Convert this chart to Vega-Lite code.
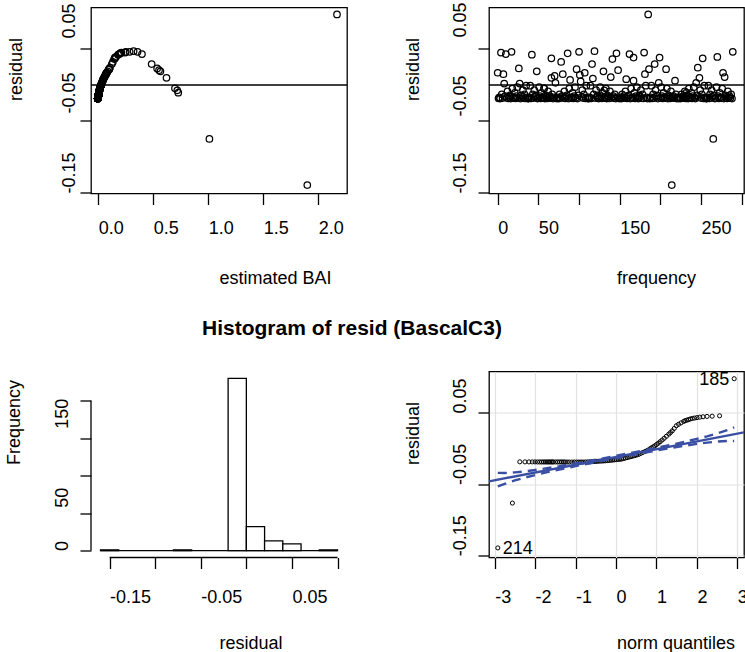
{
"$schema": "https://vega.github.io/schema/vega-lite/v6.json",
"background": "white",
"padding": {"left": 5, "top": 0.5, "right": 0, "bottom": 0},
"usermeta": {"embedOptions": {"actions": false}},
"config": {
  "font": "Liberation Sans",
  "view": {"stroke": "black", "strokeWidth": 1.3},
  "axis": {"domain": false, "grid": false, "ticks": true, "tickColor": "black", "tickSize": 11, "tickWidth": 1.3,
    "labelFont": "Liberation Sans", "labelFontSize": 18, "labelColor": "black", "labelOverlap": false, "labelFlush": false,
    "titleFont": "Liberation Sans", "titleFontSize": 18, "titleFontWeight": "normal", "titleColor": "black"}
},
"datasets": {
  "res": [
{"f":0,"b":0.076,"r":0.017},{"f":4,"b":0.21,"r":0.045},{"f":7,"b":0.069,"r":0.015},{"f":8,"b":0.03,"r":0.002},{"f":10,"b":0.19,"r":0.043},{"f":17,"b":0.285,"r":0.046},{"f":26,"b":0.535,"r":0.023},{"f":27,"b":0.03,"r":0.002},{"f":42,"b":0.18,"r":0.042},{"f":48,"b":0.565,"r":0.019},{"f":66,"b":0.148,"r":0.037},{"f":66,"b":0.052,"r":0.01},{"f":70,"b":0.0605,"r":0.0125},{"f":71,"b":0.0325,"r":0.003},{"f":78,"b":0.132,"r":0.032},{"f":80,"b":0.069,"r":0.015},{"f":86,"b":0.2,"r":0.044},{"f":89,"b":0.0425,"r":0.007},{"f":97,"b":0.097,"r":0.022},{"f":100,"b":0.357,"r":0.046},{"f":101,"b":0.0655,"r":0.014},{"f":102,"b":0.0375,"r":0.005},{"f":107,"b":0.076,"r":0.017},{"f":116,"b":0.485,"r":0.029},{"f":117,"b":0.0484,"r":0.009},{"f":119,"b":0.321,"r":0.047},{"f":130,"b":0.085,"r":0.019},{"f":139,"b":0.0555,"r":0.011},{"f":141,"b":0.145,"r":0.036},{"f":146,"b":0.2,"r":0.044},{"f":148,"b":0.552,"r":0.0205},{"f":158,"b":0.045,"r":0.008},{"f":162,"b":0.397,"r":0.043},{"f":167,"b":0.152,"r":0.038},{"f":167,"b":0.04,"r":0.006},{"f":180,"b":0.243,"r":0.045},{"f":181,"b":0.069,"r":0.015},{"f":185,"b":2.17,"r":0.098},{"f":186,"b":0.097,"r":0.022},{"f":193,"b":0.123,"r":0.029},{"f":198,"b":0.0325,"r":0.003},{"f":199,"b":0.155,"r":0.038},{"f":207,"b":0.1,"r":0.022},{"f":214,"b":1.9,"r":-0.139},{"f":218,"b":0.04,"r":0.006},{"f":244,"b":0.033,"r":0.003},{"f":246,"b":0.106,"r":0.024},{"f":248,"b":0.62,"r":0.01},{"f":252,"b":0.149,"r":0.037},{"f":265,"b":1.01,"r":-0.075},{"f":270,"b":0.16,"r":0.039},{"f":277,"b":0.077,"r":0.017},{"f":279,"b":0.056,"r":0.011},{"f":289,"b":0.25,"r":0.046},
{"f":57,"b":0.697,"r":-0.0046},{"f":131,"b":0.718,"r":-0.0074},{"f":232,"b":0.727,"r":-0.0107},
{"f":1,"b":-0.0044,"r":-0.0185},{"f":2,"b":-0.0026,"r":-0.0172},{"f":3,"b":-0.005,"r":-0.0188},{"f":5,"b":0.003,"r":-0.013},{"f":6,"b":-0.004,"r":-0.0182},{"f":9,"b":-0.0003,"r":-0.0155},{"f":11,"b":-0.0034,"r":-0.0178},{"f":12,"b":0.0083,"r":-0.009},{"f":13,"b":-0.0044,"r":-0.0185},{"f":14,"b":-0.0017,"r":-0.0165},{"f":15,"b":0.001,"r":-0.0145},{"f":16,"b":-0.005,"r":-0.0188},{"f":18,"b":0.0137,"r":-0.005},{"f":19,"b":-0.004,"r":-0.0182},{"f":20,"b":-0.0026,"r":-0.0172},{"f":21,"b":0.0057,"r":-0.011},{"f":22,"b":-0.0044,"r":-0.0185},{"f":23,"b":-0.0003,"r":-0.0155},{"f":24,"b":0.0175,"r":-0.003},{"f":25,"b":-0.0034,"r":-0.0178},{"f":28,"b":-0.005,"r":-0.0188},{"f":29,"b":0.001,"r":-0.0145},{"f":30,"b":-0.0017,"r":-0.0165},{"f":31,"b":0.011,"r":-0.007},{"f":32,"b":-0.004,"r":-0.0182},{"f":33,"b":0.003,"r":-0.013},{"f":34,"b":-0.0044,"r":-0.0185},{"f":35,"b":0.0225,"r":-0.001},{"f":36,"b":-0.0026,"r":-0.0172},{"f":37,"b":-0.005,"r":-0.0188},
{"f":38,"b":-0.005,"r":-0.0188},{"f":39,"b":-0.0026,"r":-0.0172},{"f":40,"b":0.0225,"r":-0.001},{"f":41,"b":-0.0044,"r":-0.0185},{"f":43,"b":0.003,"r":-0.013},{"f":44,"b":-0.004,"r":-0.0182},{"f":45,"b":0.011,"r":-0.007},{"f":46,"b":-0.0017,"r":-0.0165},{"f":47,"b":0.001,"r":-0.0145},{"f":49,"b":-0.005,"r":-0.0188},{"f":50,"b":-0.0034,"r":-0.0178},{"f":51,"b":0.0175,"r":-0.003},{"f":52,"b":-0.0003,"r":-0.0155},{"f":53,"b":-0.0044,"r":-0.0185},{"f":54,"b":0.0057,"r":-0.011},{"f":55,"b":-0.0026,"r":-0.0172},{"f":56,"b":-0.004,"r":-0.0182},{"f":57,"b":0.0137,"r":-0.005},{"f":58,"b":-0.005,"r":-0.0188},{"f":59,"b":0.001,"r":-0.0145},{"f":60,"b":-0.0017,"r":-0.0165},{"f":61,"b":-0.0044,"r":-0.0185},{"f":62,"b":0.0083,"r":-0.009},{"f":63,"b":-0.0034,"r":-0.0178},{"f":64,"b":-0.0003,"r":-0.0155},{"f":65,"b":-0.004,"r":-0.0182},{"f":67,"b":0.003,"r":-0.013},{"f":68,"b":-0.005,"r":-0.0188},{"f":69,"b":-0.0026,"r":-0.0172},{"f":72,"b":-0.0044,"r":-0.0185},
{"f":73,"b":-0.0044,"r":-0.0185},{"f":74,"b":-0.0026,"r":-0.0172},{"f":75,"b":-0.005,"r":-0.0188},{"f":76,"b":0.003,"r":-0.013},{"f":77,"b":-0.004,"r":-0.0182},{"f":79,"b":-0.0003,"r":-0.0155},{"f":81,"b":-0.0034,"r":-0.0178},{"f":82,"b":0.0083,"r":-0.009},{"f":83,"b":-0.0044,"r":-0.0185},{"f":84,"b":-0.0017,"r":-0.0165},{"f":85,"b":0.001,"r":-0.0145},{"f":87,"b":-0.005,"r":-0.0188},{"f":88,"b":0.0137,"r":-0.005},{"f":90,"b":-0.004,"r":-0.0182},{"f":91,"b":-0.0026,"r":-0.0172},{"f":92,"b":0.0057,"r":-0.011},{"f":93,"b":-0.0044,"r":-0.0185},{"f":94,"b":-0.0003,"r":-0.0155},{"f":95,"b":0.0175,"r":-0.003},{"f":96,"b":-0.0034,"r":-0.0178},{"f":98,"b":-0.005,"r":-0.0188},{"f":99,"b":0.001,"r":-0.0145},{"f":103,"b":-0.0017,"r":-0.0165},{"f":104,"b":0.011,"r":-0.007},{"f":105,"b":-0.004,"r":-0.0182},{"f":106,"b":0.003,"r":-0.013},{"f":108,"b":-0.0044,"r":-0.0185},{"f":109,"b":0.0225,"r":-0.001},{"f":110,"b":-0.0026,"r":-0.0172},{"f":111,"b":-0.005,"r":-0.0188},
{"f":112,"b":-0.005,"r":-0.0188},{"f":113,"b":-0.0026,"r":-0.0172},{"f":114,"b":0.0225,"r":-0.001},{"f":115,"b":-0.0044,"r":-0.0185},{"f":118,"b":0.003,"r":-0.013},{"f":120,"b":-0.004,"r":-0.0182},{"f":121,"b":0.011,"r":-0.007},{"f":122,"b":-0.0017,"r":-0.0165},{"f":123,"b":0.001,"r":-0.0145},{"f":124,"b":-0.005,"r":-0.0188},{"f":125,"b":-0.0034,"r":-0.0178},{"f":126,"b":0.0175,"r":-0.003},{"f":127,"b":-0.0003,"r":-0.0155},{"f":128,"b":-0.0044,"r":-0.0185},{"f":129,"b":0.0057,"r":-0.011},{"f":131,"b":-0.0026,"r":-0.0172},{"f":132,"b":-0.004,"r":-0.0182},{"f":133,"b":0.0137,"r":-0.005},{"f":134,"b":-0.005,"r":-0.0188},{"f":135,"b":0.001,"r":-0.0145},{"f":136,"b":-0.0017,"r":-0.0165},{"f":137,"b":-0.0044,"r":-0.0185},{"f":138,"b":0.0083,"r":-0.009},{"f":140,"b":-0.0034,"r":-0.0178},{"f":142,"b":-0.0003,"r":-0.0155},{"f":143,"b":-0.004,"r":-0.0182},{"f":144,"b":0.003,"r":-0.013},{"f":145,"b":-0.005,"r":-0.0188},{"f":147,"b":-0.0026,"r":-0.0172},{"f":149,"b":-0.0044,"r":-0.0185},
{"f":150,"b":-0.0044,"r":-0.0185},{"f":151,"b":-0.0026,"r":-0.0172},{"f":152,"b":-0.005,"r":-0.0188},{"f":153,"b":0.003,"r":-0.013},{"f":154,"b":-0.004,"r":-0.0182},{"f":155,"b":-0.0003,"r":-0.0155},{"f":156,"b":-0.0034,"r":-0.0178},{"f":157,"b":0.0083,"r":-0.009},{"f":159,"b":-0.0044,"r":-0.0185},{"f":160,"b":-0.0017,"r":-0.0165},{"f":161,"b":0.001,"r":-0.0145},{"f":163,"b":-0.005,"r":-0.0188},{"f":164,"b":0.0137,"r":-0.005},{"f":165,"b":-0.004,"r":-0.0182},{"f":166,"b":-0.0026,"r":-0.0172},{"f":168,"b":0.0057,"r":-0.011},{"f":169,"b":-0.0044,"r":-0.0185},{"f":170,"b":-0.0003,"r":-0.0155},{"f":171,"b":0.0175,"r":-0.003},{"f":172,"b":-0.0034,"r":-0.0178},{"f":173,"b":-0.005,"r":-0.0188},{"f":174,"b":0.001,"r":-0.0145},{"f":175,"b":-0.0017,"r":-0.0165},{"f":176,"b":0.011,"r":-0.007},{"f":177,"b":-0.004,"r":-0.0182},{"f":178,"b":0.003,"r":-0.013},{"f":179,"b":-0.0044,"r":-0.0185},{"f":182,"b":0.0225,"r":-0.001},{"f":183,"b":-0.0026,"r":-0.0172},{"f":184,"b":-0.005,"r":-0.0188},
{"f":187,"b":-0.005,"r":-0.0188},{"f":188,"b":-0.0026,"r":-0.0172},{"f":189,"b":0.0225,"r":-0.001},{"f":190,"b":-0.0044,"r":-0.0185},{"f":191,"b":0.003,"r":-0.013},{"f":192,"b":-0.004,"r":-0.0182},{"f":194,"b":0.011,"r":-0.007},{"f":195,"b":-0.0017,"r":-0.0165},{"f":196,"b":0.001,"r":-0.0145},{"f":197,"b":-0.005,"r":-0.0188},{"f":200,"b":-0.0034,"r":-0.0178},{"f":201,"b":0.0175,"r":-0.003},{"f":202,"b":-0.0003,"r":-0.0155},{"f":203,"b":-0.0044,"r":-0.0185},{"f":204,"b":0.0057,"r":-0.011},{"f":205,"b":-0.0026,"r":-0.0172},{"f":206,"b":-0.004,"r":-0.0182},{"f":208,"b":0.0137,"r":-0.005},{"f":209,"b":-0.005,"r":-0.0188},{"f":210,"b":0.001,"r":-0.0145},{"f":211,"b":-0.0017,"r":-0.0165},{"f":212,"b":-0.0044,"r":-0.0185},{"f":213,"b":0.0083,"r":-0.009},{"f":215,"b":-0.0034,"r":-0.0178},{"f":216,"b":-0.0003,"r":-0.0155},{"f":217,"b":-0.004,"r":-0.0182},{"f":219,"b":0.003,"r":-0.013},{"f":220,"b":-0.005,"r":-0.0188},{"f":221,"b":-0.0026,"r":-0.0172},{"f":222,"b":-0.0044,"r":-0.0185},
{"f":223,"b":-0.0044,"r":-0.0185},{"f":224,"b":-0.0026,"r":-0.0172},{"f":225,"b":-0.005,"r":-0.0188},{"f":226,"b":0.003,"r":-0.013},{"f":227,"b":-0.004,"r":-0.0182},{"f":228,"b":-0.0003,"r":-0.0155},{"f":229,"b":-0.0034,"r":-0.0178},{"f":230,"b":0.0083,"r":-0.009},{"f":231,"b":-0.0044,"r":-0.0185},{"f":232,"b":-0.0017,"r":-0.0165},{"f":233,"b":0.001,"r":-0.0145},{"f":234,"b":-0.005,"r":-0.0188},{"f":235,"b":0.0137,"r":-0.005},{"f":236,"b":-0.004,"r":-0.0182},{"f":237,"b":-0.0026,"r":-0.0172},{"f":238,"b":0.0057,"r":-0.011},{"f":239,"b":-0.0044,"r":-0.0185},{"f":240,"b":-0.0003,"r":-0.0155},{"f":241,"b":0.0175,"r":-0.003},{"f":242,"b":-0.0034,"r":-0.0178},{"f":243,"b":-0.005,"r":-0.0188},{"f":245,"b":0.001,"r":-0.0145},{"f":247,"b":-0.0017,"r":-0.0165},{"f":249,"b":0.011,"r":-0.007},{"f":250,"b":-0.004,"r":-0.0182},{"f":251,"b":0.003,"r":-0.013},{"f":253,"b":-0.0044,"r":-0.0185},{"f":254,"b":0.0225,"r":-0.001},{"f":255,"b":-0.0026,"r":-0.0172},{"f":256,"b":-0.005,"r":-0.0188},
{"f":257,"b":-0.005,"r":-0.0188},{"f":258,"b":-0.0026,"r":-0.0172},{"f":259,"b":0.0225,"r":-0.001},{"f":260,"b":-0.0044,"r":-0.0185},{"f":261,"b":0.003,"r":-0.013},{"f":262,"b":-0.004,"r":-0.0182},{"f":263,"b":0.011,"r":-0.007},{"f":264,"b":-0.0017,"r":-0.0165},{"f":266,"b":0.001,"r":-0.0145},{"f":267,"b":-0.005,"r":-0.0188},{"f":268,"b":-0.0034,"r":-0.0178},{"f":269,"b":0.0175,"r":-0.003},{"f":271,"b":-0.0003,"r":-0.0155},{"f":272,"b":-0.0044,"r":-0.0185},{"f":273,"b":0.0057,"r":-0.011},{"f":274,"b":-0.0026,"r":-0.0172},{"f":275,"b":-0.004,"r":-0.0182},{"f":276,"b":0.0137,"r":-0.005},{"f":278,"b":-0.005,"r":-0.0188},{"f":280,"b":0.001,"r":-0.0145},{"f":281,"b":-0.0017,"r":-0.0165},{"f":282,"b":-0.0044,"r":-0.0185},{"f":283,"b":0.0083,"r":-0.009},{"f":284,"b":-0.0034,"r":-0.0178},{"f":285,"b":-0.0003,"r":-0.0155},{"f":286,"b":-0.004,"r":-0.0182},{"f":287,"b":0.003,"r":-0.013},{"f":288,"b":-0.005,"r":-0.0188}
  ],
  "hist": [
{"lo":-0.16,"hi":-0.14,"n":1},{"lo":-0.08,"hi":-0.06,"n":1},{"lo":-0.02,"hi":0,"n":230},{"lo":0,"hi":0.02,"n":32},{"lo":0.02,"hi":0.04,"n":13},{"lo":0.04,"hi":0.06,"n":9},{"lo":0.08,"hi":0.1,"n":1}
  ],
  "qq": [
{"q":-2.922,"r":-0.139},{"q":-2.561,"r":-0.0762},{"q":-2.378,"r":-0.0184},{"q":-2.251,"r":-0.0185},{"q":-2.152,"r":-0.0185},{"q":-2.071,"r":-0.0185},{"q":-2.002,"r":-0.0185},{"q":-1.941,"r":-0.0186},{"q":-1.886,"r":-0.0186},{"q":-1.837,"r":-0.0186},{"q":-1.792,"r":-0.0186},{"q":-1.75,"r":-0.0186},{"q":-1.711,"r":-0.0186},{"q":-1.674,"r":-0.0186},{"q":-1.64,"r":-0.0186},{"q":-1.607,"r":-0.0186},{"q":-1.576,"r":-0.0186},{"q":-1.546,"r":-0.0186},{"q":-1.491,"r":-0.0186},{"q":-1.44,"r":-0.0186},{"q":-1.393,"r":-0.0186},{"q":-1.348,"r":-0.0186},{"q":-1.306,"r":-0.0186},{"q":-1.265,"r":-0.0186},{"q":-1.209,"r":-0.0187},{"q":-1.157,"r":-0.0187},{"q":-1.092,"r":-0.0187},{"q":-1.03,"r":-0.0187},{"q":-0.972,"r":-0.0187},{"q":-0.917,"r":-0.0187},{"q":-0.865,"r":-0.0187},{"q":-0.816,"r":-0.0187},{"q":-0.756,"r":-0.0186},{"q":-0.699,"r":-0.0186},{"q":-0.645,"r":-0.0184},{"q":-0.592,"r":-0.0182},{"q":-0.541,"r":-0.018},{"q":-0.491,"r":-0.0178},{"q":-0.442,"r":-0.0176},{"q":-0.394,"r":-0.0174},{"q":-0.347,"r":-0.0173},{"q":-0.301,"r":-0.0171},{"q":-0.256,"r":-0.0169},{"q":-0.211,"r":-0.0166},{"q":-0.167,"r":-0.0164},{"q":-0.123,"r":-0.0161},{"q":-0.079,"r":-0.0159},{"q":-0.035,"r":-0.0156},{"q":0.009,"r":-0.0153},{"q":0.052,"r":-0.0151},{"q":0.096,"r":-0.0148},{"q":0.14,"r":-0.0145},{"q":0.185,"r":-0.0138},{"q":0.229,"r":-0.0131},{"q":0.274,"r":-0.0125},{"q":0.319,"r":-0.0118},{"q":0.366,"r":-0.0111},{"q":0.413,"r":-0.0104},{"q":0.461,"r":-0.0097},{"q":0.51,"r":-0.0089},{"q":0.561,"r":-0.008},{"q":0.613,"r":-0.0066},{"q":0.666,"r":-0.0052},{"q":0.722,"r":-0.0038},{"q":0.779,"r":-0.0023},{"q":0.84,"r":-0.0002},{"q":0.879,"r":0.0012},{"q":0.918,"r":0.0025},{"q":0.958,"r":0.0039},{"q":1.0,"r":0.0058},{"q":1.045,"r":0.0077},{"q":1.092,"r":0.0098},{"q":1.141,"r":0.0121},{"q":1.192,"r":0.0146},{"q":1.247,"r":0.0174},{"q":1.306,"r":0.0204},{"q":1.347,"r":0.0226},{"q":1.392,"r":0.025},{"q":1.44,"r":0.0283},{"q":1.492,"r":0.0321},{"q":1.546,"r":0.0341},{"q":1.607,"r":0.0361},{"q":1.674,"r":0.0382},{"q":1.71,"r":0.0392},{"q":1.75,"r":0.0399},{"q":1.792,"r":0.0407},{"q":1.837,"r":0.0416},{"q":1.886,"r":0.0423},{"q":1.941,"r":0.0429},{"q":2.002,"r":0.0435},{"q":2.071,"r":0.0441},{"q":2.152,"r":0.0447},{"q":2.251,"r":0.0452},{"q":2.378,"r":0.0455},{"q":2.561,"r":0.046},{"q":2.922,"r":0.098}
  ],
  "fit": [{"q":-3.14,"r":-0.0458},{"q":3.165,"r":0.0229}],
  "env": [
{"q":-2.922,"lo":-0.05295,"hi":-0.03395},{"q":-2.75,"lo":-0.04914,"hi":-0.03402},{"q":-2.5,"lo":-0.0445,"hi":-0.0332},{"q":-2.25,"lo":-0.0405,"hi":-0.03176},{"q":-2,"lo":-0.0369,"hi":-0.0299},{"q":-1.5,"lo":-0.03035,"hi":-0.02555},{"q":-1,"lo":-0.0244,"hi":-0.0206},{"q":-0.5,"lo":-0.0187,"hi":-0.0154},{"q":0,"lo":-0.0132,"hi":-0.01},{"q":0.5,"lo":-0.0078,"hi":-0.0045},{"q":1,"lo":-0.0026,"hi":0.0012},{"q":1.5,"lo":0.00235,"hi":0.00715},{"q":2,"lo":0.0067,"hi":0.0137},{"q":2.25,"lo":0.00856,"hi":0.0173},{"q":2.5,"lo":0.01,"hi":0.0213},{"q":2.75,"lo":0.01082,"hi":0.02594},{"q":2.922,"lo":0.01075,"hi":0.02975}
  ],
  "lab": [{"q":2.922,"r":0.098,"lab":"185"},{"q":-2.922,"r":-0.139,"lab":"214"}]
},
"columns": 2,
"spacing": {"row": 178, "column": 142},
"bounds": "flush",
"concat": [
 {
  "width": 256, "height": 186,
  "layer": [
   {"data": {"name": "res"},
    "mark": {"type": "point", "shape": "circle", "filled": false, "stroke": "black", "strokeWidth": 1.25, "size": 42, "opacity": 1},
    "encoding": {
     "x": {"field": "b", "type": "quantitative", "scale": {"domain": [-0.0664, 2.261], "nice": false, "zero": false},
       "axis": {"values": [0, 0.5, 1, 1.5, 2], "labelExpr": "format(datum.value, '.1f')", "labelAlign": "left", "labelBaseline": "alphabetic", "labelPadding": 29,
         "title": "estimated BAI", "titleX": 128, "titleY": 90, "titleAlign": "left", "titleBaseline": "alphabetic", "titleAngle": 0}},
     "y": {"field": "r", "type": "quantitative", "scale": {"domain": [-0.1507, 0.1076], "nice": false, "zero": false},
       "axis": {"values": [-0.15, -0.1, -0.05, 0, 0.05, 0.1],
         "labelExpr": "abs(datum.value - 0.05) < 0.001 ? '0.05' : abs(datum.value + 0.05) < 0.001 ? '-0.05' : abs(datum.value + 0.15) < 0.001 ? '-0.15' : ''",
         "labelAngle": 270, "labelAlign": "left", "labelBaseline": "alphabetic", "labelPadding": 6,
         "labelOffset": {"condition": [{"test": "datum.value > 0.01", "value": -11}, {"test": "datum.value > -0.1", "value": -8}], "value": 0},
         "title": "residual", "titleAngle": 270, "titleAlign": "left", "titleBaseline": "alphabetic", "titleX": -70, "titleY": 93}}
    }},
   {"data": {"values": [{}]}, "mark": {"type": "rule", "color": "black", "strokeWidth": 1.3},
    "encoding": {"y": {"datum": 0, "type": "quantitative"}}}
  ]
 },
 {
  "width": 255, "height": 186,
  "layer": [
   {"data": {"name": "res"},
    "mark": {"type": "point", "shape": "circle", "filled": false, "stroke": "black", "strokeWidth": 1.25, "size": 42, "opacity": 1},
    "encoding": {
     "x": {"field": "f", "type": "quantitative", "scale": {"domain": [-10.7, 302.8], "nice": false, "zero": false},
       "axis": {"values": [0, 50, 100, 150, 200, 250, 300], "labelExpr": "datum.value == 0 || datum.value == 50 || datum.value == 150 || datum.value == 250 ? '' + datum.value : ''",
         "labelAlign": "left", "labelBaseline": "alphabetic", "labelPadding": 29,
         "title": "frequency", "titleX": 127.5, "titleY": 90, "titleAlign": "left", "titleBaseline": "alphabetic", "titleAngle": 0}},
     "y": {"field": "r", "type": "quantitative", "scale": {"domain": [-0.1507, 0.1076], "nice": false, "zero": false},
       "axis": {"values": [-0.15, -0.1, -0.05, 0, 0.05, 0.1],
         "labelExpr": "abs(datum.value - 0.05) < 0.001 ? '0.05' : abs(datum.value + 0.05) < 0.001 ? '-0.05' : abs(datum.value + 0.15) < 0.001 ? '-0.15' : ''",
         "labelAngle": 270, "labelAlign": "left", "labelBaseline": "alphabetic", "labelPadding": 13,
         "labelOffset": {"condition": [{"test": "datum.value > 0.01", "value": -12}, {"test": "datum.value > -0.1", "value": -5}], "value": 0},
         "title": "residual", "titleAngle": 270, "titleAlign": "left", "titleBaseline": "alphabetic", "titleX": -70.6, "titleY": 93}}
    }},
   {"data": {"values": [{}]}, "mark": {"type": "rule", "color": "black", "strokeWidth": 1.3},
    "encoding": {"y": {"datum": 0, "type": "quantitative"}}}
  ]
 },
 {
  "width": 256, "height": 186,
  "view": {"stroke": null},
  "title": {"text": "Histogram of resid (BascalC3)", "anchor": "start", "frame": "group", "dx": 111, "offset": 16, "baseline": "alphabetic", "font": "Liberation Sans", "fontSize": 21, "fontWeight": "bold", "color": "black"},
  "layer": [
   {"data": {"name": "hist"},
    "mark": {"type": "rect", "fill": "white", "stroke": "black", "strokeWidth": 1.3},
    "encoding": {
     "x": {"field": "lo", "type": "quantitative", "scale": {"domain": [-0.1704, 0.1104], "nice": false, "zero": false},
       "axis": {"values": [-0.15, -0.1, -0.05, 0, 0.05, 0.1],
         "labelExpr": "abs(datum.value - 0.05) < 0.001 ? '0.05' : abs(datum.value + 0.05) < 0.001 ? '-0.05' : abs(datum.value + 0.15) < 0.001 ? '-0.15' : ''",
         "labelAlign": "left", "labelBaseline": "alphabetic", "labelPadding": 34,
         "title": "residual", "titleX": 128, "titleY": 91, "titleAlign": "left", "titleBaseline": "alphabetic", "titleAngle": 0}},
     "x2": {"field": "hi"},
     "y": {"field": "n", "type": "quantitative", "scale": {"domain": [-9.2, 239.2], "nice": false, "zero": false},
       "axis": {"values": [0, 50, 100, 150, 200],
         "labelExpr": "datum.value == 0 ? '0' : datum.value == 50 ? '50' : datum.value == 150 ? '150' : ''",
         "labelAngle": 270, "labelAlign": "left", "labelBaseline": "alphabetic", "labelPadding": 13,
         "labelOffset": {"condition": [{"test": "datum.value > 100", "value": -10}, {"test": "datum.value > 10", "value": -6}], "value": 0},
         "title": "Frequency", "titleAngle": 270, "titleAlign": "left", "titleBaseline": "alphabetic", "titleX": -72, "titleY": 93}},
     "y2": {"datum": 0}
    }},
   {"data": {"values": [{}]}, "mark": {"type": "rule", "color": "black", "strokeWidth": 1.3},
    "encoding": {"x": {"datum": -0.16, "type": "quantitative"}, "x2": {"datum": 0.1}, "y": {"datum": 0, "type": "quantitative"}}},
   {"data": {"values": [{}]}, "mark": {"type": "rule", "color": "black", "strokeWidth": 1.3},
    "encoding": {"x": {"datum": -0.1704, "type": "quantitative"}, "y": {"datum": 0, "type": "quantitative"}, "y2": {"datum": 200}}},
   {"data": {"values": [{}]}, "mark": {"type": "rule", "color": "black", "strokeWidth": 1.3},
    "encoding": {"x": {"datum": -0.15, "type": "quantitative"}, "x2": {"datum": 0.1}, "y": {"datum": -9.2, "type": "quantitative"}}}
  ]
 },
 {
  "width": 255, "height": 186,
  "layer": [
   {"data": {"name": "qq"},
    "mark": {"type": "point", "shape": "circle", "filled": false, "stroke": "black", "strokeWidth": 1, "size": 17, "opacity": 1},
    "encoding": {
     "x": {"field": "q", "type": "quantitative", "scale": {"domain": [-3.14, 3.165], "nice": false, "zero": false},
       "axis": {"values": [-3, -2, -1, 0, 1, 2, 3], "labelExpr": "datum.value < 0 ? '-' + abs(datum.value) : '' + datum.value",
         "labelAlign": "left", "labelBaseline": "alphabetic", "labelPadding": 34, "grid": true, "gridColor": "#e2e2e2", "gridWidth": 1.2,
         "title": "norm quantiles", "titleX": 127.5, "titleY": 91, "titleAlign": "left", "titleBaseline": "alphabetic", "titleAngle": 0}},
     "y": {"field": "r", "type": "quantitative", "scale": {"domain": [-0.1524, 0.1081], "nice": false, "zero": false},
       "axis": {"values": [-0.15, -0.1, -0.05, 0, 0.05, 0.1],
         "labelExpr": "abs(datum.value - 0.05) < 0.001 ? '0.05' : abs(datum.value + 0.05) < 0.001 ? '-0.05' : abs(datum.value + 0.15) < 0.001 ? '-0.15' : ''",
         "labelAngle": 270, "labelAlign": "left", "labelBaseline": "alphabetic", "labelPadding": 13, "grid": true, "gridColor": "#e2e2e2", "gridWidth": 1.2,
         "title": "residual", "titleAngle": 270, "titleAlign": "left", "titleBaseline": "alphabetic", "titleX": -70.6, "titleY": 93}}
    }},
   {"data": {"name": "fit"}, "mark": {"type": "line", "color": "#3a4fa3", "strokeWidth": 2.4, "clip": true},
    "encoding": {"x": {"field": "q", "type": "quantitative"}, "y": {"field": "r", "type": "quantitative"}}},
   {"data": {"name": "env"}, "mark": {"type": "line", "color": "#3a4fa3", "strokeWidth": 2.4, "strokeDash": [9, 6]},
    "encoding": {"x": {"field": "q", "type": "quantitative"}, "y": {"field": "hi", "type": "quantitative"}}},
   {"data": {"name": "env"}, "mark": {"type": "line", "color": "#3a4fa3", "strokeWidth": 2.4, "strokeDash": [9, 6]},
    "encoding": {"x": {"field": "q", "type": "quantitative"}, "y": {"field": "lo", "type": "quantitative"}}},
   {"data": {"name": "lab"}, "transform": [{"filter": "datum.lab == '185'"}],
    "mark": {"type": "text", "align": "right", "baseline": "middle", "dx": -5, "dy": 1, "font": "Liberation Sans", "fontSize": 18, "color": "black"},
    "encoding": {"x": {"field": "q", "type": "quantitative"}, "y": {"field": "r", "type": "quantitative"}, "text": {"field": "lab"}}},
   {"data": {"name": "lab"}, "transform": [{"filter": "datum.lab == '214'"}],
    "mark": {"type": "text", "align": "left", "baseline": "middle", "dx": 5, "dy": 1, "font": "Liberation Sans", "fontSize": 18, "color": "black"},
    "encoding": {"x": {"field": "q", "type": "quantitative"}, "y": {"field": "r", "type": "quantitative"}, "text": {"field": "lab"}}}
  ]
 }
]
}
